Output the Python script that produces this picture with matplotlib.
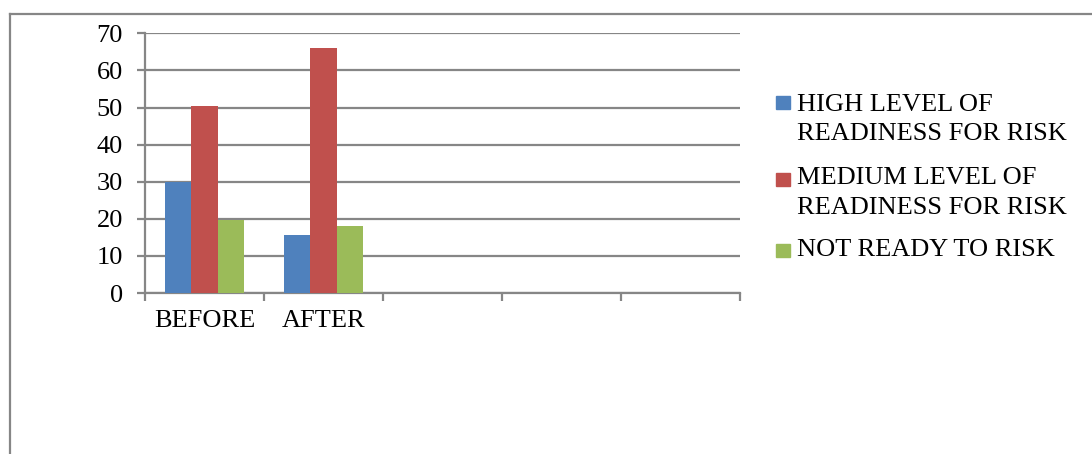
import matplotlib
matplotlib.use("Agg")
import matplotlib.pyplot as plt
from matplotlib.patches import Rectangle
from matplotlib.lines import Line2D
import numpy as np

categories = ["BEFORE", "AFTER", "", "", ""]
series_names = ["HIGH LEVEL OF\nREADINESS FOR RISK",
                "MEDIUM LEVEL OF\nREADINESS FOR RISK",
                "NOT READY TO RISK"]
high = [30, 15.7, np.nan, np.nan, np.nan]
medium = [50.3, 66, np.nan, np.nan, np.nan]
not_ready = [19.6, 18, np.nan, np.nan, np.nan]
colors = ["#4F81BD", "#C0504D", "#9BBB59"]
yticks = [0, 10, 20, 30, 40, 50, 60, 70]

plt.rcParams['font.family'] = ['Liberation Serif', 'DejaVu Serif']

W, H = 1092, 454
fig = plt.figure(figsize=(W / 100, H / 100), dpi=100)
FS = 19
LFS = 19

ax = fig.add_axes([145 / W, 1 - 293 / H, (740 - 145) / W, (293 - 33.3) / H])
x = np.arange(len(categories))
bw = 1 / 4.5
grid_c = "#868686"
for i, (vals, c) in enumerate(zip([high, medium, not_ready], colors)):
    ax.bar(x + (i - 1) * bw, vals, width=bw, color=c, zorder=3)

ax.set_xlim(-0.5, len(categories) - 0.5)
ax.set_ylim(0, 70)
ax.set_yticks(yticks)
ax.set_yticklabels([str(v) for v in yticks], fontsize=FS, family='Liberation Serif')
ax.yaxis.grid(True, color=grid_c, linewidth=1.6, zorder=0)
ax.set_axisbelow(True)
for s in ["top", "right"]:
    ax.spines[s].set_visible(False)
for s in ["left", "bottom"]:
    ax.spines[s].set_color(grid_c)
    ax.spines[s].set_linewidth(1.6)
ax.tick_params(axis="y", length=6, width=1.6, color=grid_c, pad=10)
ax.set_xticks(np.arange(len(categories) + 1) - 0.5, minor=False)
ax.set_xticklabels([])
ax.tick_params(axis="x", which="major", length=6, width=1.6, color=grid_c)
ax.set_xticks(x, minor=True)
ax.set_xticklabels(categories, minor=True, fontsize=FS, family='Liberation Serif')
ax.tick_params(axis="x", which="minor", length=0, pad=12)

# outer border (top and left only visible)
fig.add_artist(Line2D([10 / W, 10 / W], [0, 1 - 13.5 / H], transform=fig.transFigure,
                      color=grid_c, linewidth=1.6))
fig.add_artist(Line2D([10 / W, 1], [1 - 13.5 / H, 1 - 13.5 / H], transform=fig.transFigure,
                      color=grid_c, linewidth=1.6))

# legend
leg_y = [103, 179.5, 250.5]
text_y = [105, 178.5, 250.5]
for name, c, yy, ty in zip(series_names, colors, leg_y, text_y):
    fig.add_artist(Rectangle((776 / W, 1 - (yy + 6.5) / H), 13.5 / W, 13 / H,
                             transform=fig.transFigure, color=c))
    fig.text(797 / W, 1 - (ty - 11) / H, name, fontsize=LFS, va="top", ha="left",
             linespacing=1.42, family='Liberation Serif')

fig.savefig("out.png", dpi=100)
